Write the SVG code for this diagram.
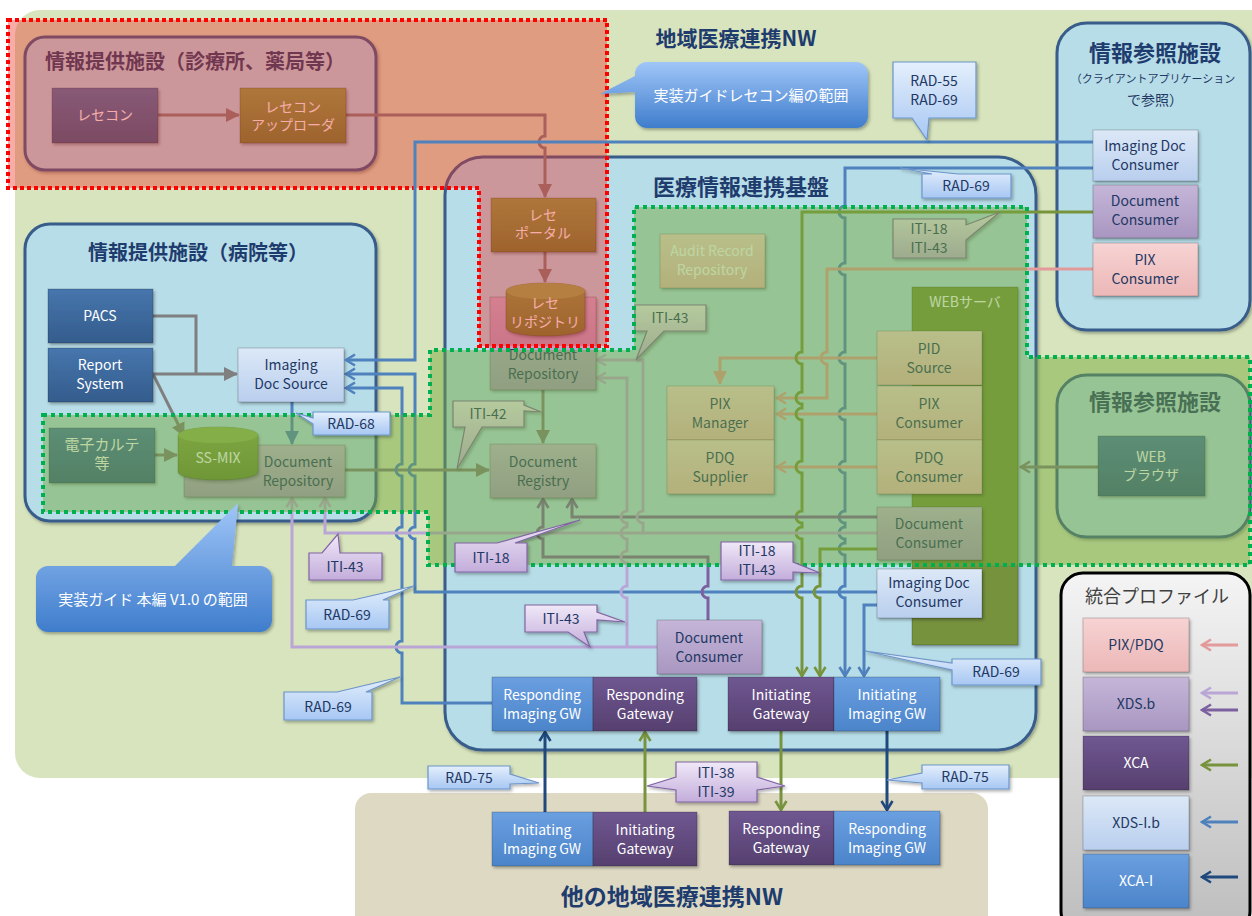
<svg xmlns="http://www.w3.org/2000/svg" width="1252" height="916" viewBox="0 0 1252 916">
<defs>
<style>
text{font-family:'Noto Sans CJK JP','Noto Sans',sans-serif}
.t{font-size:14px;text-anchor:middle}
.w{fill:#ffffff}
.n{fill:#1f3864}
.h{font-size:20px;font-weight:bold;fill:#1f3c6e}
.bx{stroke:rgba(0,0,0,0.2);stroke-width:1;filter:url(#sh)}
.dk{fill:url(#gDk)}
.lb{fill:url(#gLb)}
.lav{fill:url(#gLav)}
.pk{fill:url(#gPk)}
.ol{fill:url(#gOl)}
.mb{fill:url(#gMb)}
.pu{fill:url(#gPu)}
.ln{fill:none;stroke-width:3}
.reg{fill:#b7dde8;stroke:#385d8a;stroke-width:3;filter:url(#sh)}
.cb{fill:url(#gCb);stroke:#6d95c9;stroke-width:1.2;filter:url(#sh)}
.cl{fill:url(#gCl);stroke:#8064a2;stroke-width:1.2;filter:url(#sh)}
.cB{fill:url(#gCB);filter:url(#sh)}
.gy{stroke:#7f7f7f}.bl{stroke:#4f81bd}.pi{stroke:#e29a9a}.gr{stroke:#77933c}.nv{stroke:#1f497d}.dp{stroke:#7d60a0}.lp{stroke:#b9a6d6}
</style>
<filter id="sh" x="-10%" y="-10%" width="130%" height="140%"><feDropShadow dx="1.5" dy="2" stdDeviation="1.5" flood-color="#000" flood-opacity="0.3"/></filter>
<linearGradient id="gDk" x1="0" y1="0" x2="0" y2="1"><stop offset="0" stop-color="#4676ad"/><stop offset="1" stop-color="#345c8c"/></linearGradient>
<linearGradient id="gLb" x1="0" y1="0" x2="0" y2="1"><stop offset="0" stop-color="#dce8f7"/><stop offset="1" stop-color="#b9cfee"/></linearGradient>
<linearGradient id="gLav" x1="0" y1="0" x2="0" y2="1"><stop offset="0" stop-color="#c5b6d8"/><stop offset="1" stop-color="#a996c1"/></linearGradient>
<linearGradient id="gPk" x1="0" y1="0" x2="0" y2="1"><stop offset="0" stop-color="#f7d3d3"/><stop offset="1" stop-color="#ecb7b7"/></linearGradient>
<linearGradient id="gOl" x1="0" y1="0" x2="0" y2="1"><stop offset="0" stop-color="#87a64a"/><stop offset="1" stop-color="#6b8634"/></linearGradient>
<linearGradient id="gMb" x1="0" y1="0" x2="0" y2="1"><stop offset="0" stop-color="#6a9fe0"/><stop offset="1" stop-color="#4c84ca"/></linearGradient>
<linearGradient id="gPu" x1="0" y1="0" x2="0" y2="1"><stop offset="0" stop-color="#6f5791"/><stop offset="1" stop-color="#56406f"/></linearGradient>
<linearGradient id="gCb" x1="0" y1="0" x2="0" y2="1"><stop offset="0" stop-color="#e4effc"/><stop offset="1" stop-color="#a7c7f3"/></linearGradient>
<linearGradient id="gCl" x1="0" y1="0" x2="0" y2="1"><stop offset="0" stop-color="#f0e8f8"/><stop offset="1" stop-color="#c3addb"/></linearGradient>
<linearGradient id="gCB" x1="0" y1="0" x2="0" y2="1"><stop offset="0" stop-color="#a0c6f8"/><stop offset="1" stop-color="#3f7dcc"/></linearGradient>
<linearGradient id="gLeg" x1="0" y1="0" x2="0" y2="1"><stop offset="0" stop-color="#f4f4f4"/><stop offset="1" stop-color="#bdbdbd"/></linearGradient>
<marker id="sG" viewBox="0 0 14 14" refX="13" refY="7" markerWidth="14" markerHeight="14" markerUnits="userSpaceOnUse" orient="auto"><path d="M0,0 L14,7 L0,14 Z" fill="#7f7f7f"/></marker>
<marker id="sB" viewBox="0 0 14 14" refX="13" refY="7" markerWidth="14" markerHeight="14" markerUnits="userSpaceOnUse" orient="auto"><path d="M0,0 L14,7 L0,14 Z" fill="#4f81bd"/></marker>
<marker id="sP" viewBox="0 0 14 14" refX="13" refY="7" markerWidth="14" markerHeight="14" markerUnits="userSpaceOnUse" orient="auto"><path d="M0,0 L14,7 L0,14 Z" fill="#e29a9a"/></marker>
<marker id="oG" viewBox="0 0 14 14" refX="12" refY="7" markerWidth="14" markerHeight="14" markerUnits="userSpaceOnUse" orient="auto"><path d="M3,1.5 L12,7 L3,12.5" fill="none" stroke="#7f7f7f" stroke-width="2.6"/></marker>
<marker id="oB" viewBox="0 0 14 14" refX="12" refY="7" markerWidth="14" markerHeight="14" markerUnits="userSpaceOnUse" orient="auto"><path d="M3,1.5 L12,7 L3,12.5" fill="none" stroke="#4f81bd" stroke-width="2.6"/></marker>
<marker id="oP" viewBox="0 0 14 14" refX="12" refY="7" markerWidth="14" markerHeight="14" markerUnits="userSpaceOnUse" orient="auto"><path d="M3,1.5 L12,7 L3,12.5" fill="none" stroke="#e29a9a" stroke-width="2.6"/></marker>
<marker id="oGr" viewBox="0 0 14 14" refX="12" refY="7" markerWidth="14" markerHeight="14" markerUnits="userSpaceOnUse" orient="auto"><path d="M3,1.5 L12,7 L3,12.5" fill="none" stroke="#77933c" stroke-width="2.6"/></marker>
<marker id="oN" viewBox="0 0 14 14" refX="12" refY="7" markerWidth="14" markerHeight="14" markerUnits="userSpaceOnUse" orient="auto"><path d="M3,1.5 L12,7 L3,12.5" fill="none" stroke="#1f497d" stroke-width="2.6"/></marker>
<marker id="oD" viewBox="0 0 14 14" refX="12" refY="7" markerWidth="14" markerHeight="14" markerUnits="userSpaceOnUse" orient="auto"><path d="M3,1.5 L12,7 L3,12.5" fill="none" stroke="#7d60a0" stroke-width="2.6"/></marker>
<marker id="oL" viewBox="0 0 14 14" refX="12" refY="7" markerWidth="14" markerHeight="14" markerUnits="userSpaceOnUse" orient="auto"><path d="M3,1.5 L12,7 L3,12.5" fill="none" stroke="#b9a6d6" stroke-width="2.6"/></marker>
</defs>

<rect width="1252" height="916" fill="#ffffff"/>
<rect id="nw-main" x="15" y="10" width="1262" height="768" rx="25" fill="#d7e4bd"/>
<rect id="nw-other" x="355" y="793" width="633" height="140" rx="16" fill="#ddd9c3"/>

<g id="regions">
  <g id="r-clinic"><rect class="reg" x="25" y="37" width="351" height="133" rx="20"/><text class="h" x="45" y="69">情報提供施設（診療所、薬局等）</text></g>
  <g id="r-hospital"><rect class="reg" x="25" y="224" width="351" height="297" rx="25"/><text class="h" x="88" y="260">情報提供施設（病院等）</text></g>
  <g id="r-base"><rect class="reg" x="445" y="157" width="591" height="593" rx="38"/><text class="h" x="741" y="195" text-anchor="middle" style="font-size:22px">医療情報連携基盤</text></g>
  <g id="r-ref1"><rect class="reg" x="1057" y="23" width="193" height="307" rx="30"/>
    <text class="h" x="1155" y="61" text-anchor="middle" style="font-size:22px">情報参照施設</text>
    <text x="1153" y="83" text-anchor="middle" font-size="11" fill="#1f3864">（クライアントアプリケーション</text>
    <text x="1155" y="105" text-anchor="middle" font-size="14" fill="#1f3864">で参照）</text></g>
  <g id="r-ref2"><rect class="reg" x="1057" y="375" width="193" height="162" rx="30"/><text class="h" x="1155" y="410" text-anchor="middle" style="font-size:22px">情報参照施設</text></g>
  <text class="h" x="736" y="46" text-anchor="middle" style="font-size:21px">地域医療連携NW</text>
  <text class="h" x="672" y="905" text-anchor="middle" style="font-size:23px">他の地域医療連携NW</text>
</g>

<g id="connectors">
  <path class="ln gy" d="M158,115 H239" marker-end="url(#sG)"/>
  <path class="ln gy" d="M346,115 H545 V136 A6,6 0 0 0 545,148 V197" marker-end="url(#sG)"/>
  <path class="ln gy" d="M545,252 V282" marker-end="url(#sG)"/>
  <path class="ln gy" d="M153,316 H196 V374"/>
  <path class="ln gy" d="M153,374 H237" marker-end="url(#sG)"/>
  <path class="ln gy" d="M153,374 L184,436" marker-end="url(#sG)"/>
  <path class="ln gy" d="M155,455 H177" marker-end="url(#sG)"/>
  <path class="ln gy" d="M345,470 H489" marker-end="url(#sG)"/>
  <path class="ln gy" d="M543,390 V443" marker-end="url(#sG)"/>
  <path class="ln gy" d="M1098,467 H1021" marker-end="url(#oG)"/>
  <path class="ln bl" d="M292,402 V444" marker-end="url(#sB)"/>
  <path class="ln bl" d="M877,592 H415 V539 A6,6 0 0 1 415,527 V476 A6,6 0 0 1 415,464 V374 H346" marker-end="url(#oB)"/>
  <path class="ln bl" d="M492,703 H402 V653 A6,6 0 0 1 402,641 V539 A6,6 0 0 1 402,527 V476 A6,6 0 0 1 402,464 V388 H346" marker-end="url(#oB)"/>
  <path class="ln bl" d="M1093,168 H845 V206 A6,6 0 0 0 845,218 V263 A6,6 0 0 0 845,275 V352 A6,6 0 0 0 845,364 V408 A6,6 0 0 0 845,420 V461 A6,6 0 0 0 845,473 V511 A6,6 0 0 0 845,523 V527 A6,6 0 0 0 845,539 V543 A6,6 0 0 0 845,555 V586 A6,6 0 0 0 845,598 V676" marker-end="url(#oB)"/>
  <path class="ln bl" d="M877,605 H864 V676" marker-end="url(#oB)"/>
  <path class="ln pi" d="M1093,269 H827 V352 A6,6 0 0 0 827,364 V398 H777" marker-end="url(#oP)"/>
  <path class="ln pi" d="M877,358 H720 V384" marker-end="url(#sP)"/>
  <path class="ln pi" d="M877,414 H777" marker-end="url(#oP)"/>
  <path class="ln pi" d="M877,467 H777" marker-end="url(#oP)"/>
  <path class="ln gr" d="M1093,212 H802 V352 A6,6 0 0 0 802,364 V392 A6,6 0 0 0 802,404 V408 A6,6 0 0 0 802,420 V461 A6,6 0 0 0 802,473 V511 A6,6 0 0 0 802,523 V527 A6,6 0 0 0 802,539 V586 A6,6 0 0 0 802,598 V676" marker-end="url(#oGr)"/>
  <path class="ln gr" d="M877,549 H820 V586 A6,6 0 0 0 820,598 V676" marker-end="url(#oGr)"/>
  <path class="ln gr" d="M645,812 V732" marker-end="url(#oGr)"/>
  <path class="ln gr" d="M781,731 V810" marker-end="url(#oGr)"/>
  <path class="ln nv" d="M545,812 V732" marker-end="url(#oN)"/>
  <path class="ln nv" d="M887,731 V810" marker-end="url(#oN)"/>
  <path class="ln dp" d="M877,517 H572 V499" marker-end="url(#oD)"/>
  <path class="ln dp" d="M708,620 V598 A6,6 0 0 1 708,586 V557 H543 V539 A6,6 0 0 1 543,527 V499" marker-end="url(#oD)"/>
  <path class="ln lp" d="M877,533 H643 V523 A6,6 0 0 1 643,511 V360 H597" marker-end="url(#oL)"/>
  <path class="ln lp" d="M643,533 H325 V498" marker-end="url(#oL)"/>
  <path class="ln lp" d="M657,647 H292 V498" marker-end="url(#oL)"/>
  <path class="ln lp" d="M627,647 V598 A6,6 0 0 1 627,586 V563 A6,6 0 0 1 627,551 V539 A6,6 0 0 1 627,527 V523 A6,6 0 0 1 627,511 V378 H597" marker-end="url(#oL)"/>
</g>

<g id="nodes">
  <g id="n-resecon"><rect class="bx dk" x="52" y="88" width="106" height="55"/><text class="t w" x="105" y="120">レセコン</text></g>
  <g id="n-uploader"><rect class="bx ol" x="240" y="88" width="106" height="55"/><text class="t w" x="293" y="112">レセコン</text><text class="t w" x="293" y="130">アップローダ</text></g>
  <g id="n-pacs"><rect class="bx dk" x="48" y="289" width="105" height="54"/><text class="t w" x="100" y="321">PACS</text></g>
  <g id="n-report"><rect class="bx dk" x="48" y="348" width="105" height="54"/><text class="t w" x="100" y="370">Report</text><text class="t w" x="100" y="389">System</text></g>
  <g id="n-imgdocsrc"><rect class="bx lb" x="238" y="348" width="106" height="54"/><text class="t n" x="291" y="370">Imaging</text><text class="t n" x="291" y="389">Doc Source</text></g>
  <g id="n-emr"><rect class="bx dk" x="49" y="428" width="106" height="55"/><text class="t w" x="102" y="450" style="font-size:15px">電子カルテ</text><text class="t w" x="102" y="469" style="font-size:15px">等</text></g>
  <g id="n-hosp-repo"><rect class="bx lav" x="184" y="445" width="161" height="52"/><text class="t n" x="298" y="467">Document</text><text class="t n" x="298" y="486">Repository</text></g>
  <g id="n-ssmix"><path class="bx ol" d="M178,435 V472 A40,8 0 0 0 258,472 V435 A40,8 0 0 0 178,435 Z"/><ellipse cx="218" cy="435" rx="40" ry="8" fill="#93b455"/><text class="t w" x="218" y="463">SS-MIX</text></g>
  <g id="n-portal"><rect class="bx ol" x="491" y="198" width="105" height="54"/><text class="t w" x="543" y="220">レセ</text><text class="t w" x="543" y="238">ポータル</text></g>
  <g id="n-repo"><rect class="bx lav" x="490" y="297" width="106" height="93"/><text class="t n" x="543" y="360">Document</text><text class="t n" x="543" y="379">Repository</text></g>
  <g id="n-rece-repo"><path class="bx ol" d="M506,291 V328 A39.5,8 0 0 0 585,328 V291 A39.5,8 0 0 0 506,291 Z"/><ellipse cx="545.5" cy="291" rx="39.5" ry="8" fill="#93b455"/><text class="t w" x="545" y="308">レセ</text><text class="t w" x="545" y="327">リポジトリ</text></g>
  <g id="n-registry"><rect class="bx lav" x="490" y="444" width="106" height="54"/><text class="t n" x="543" y="467">Document</text><text class="t n" x="543" y="486">Registry</text></g>
  <g id="n-audit"><rect class="bx pk" x="660" y="234" width="105" height="54"/><text class="t w" x="712" y="256">Audit Record</text><text class="t w" x="712" y="275">Repository</text></g>
  <g id="n-pixmgr"><rect class="bx pk" x="667" y="386" width="107" height="54"/><text class="t n" x="720" y="409">PIX</text><text class="t n" x="720" y="428">Manager</text></g>
  <g id="n-pdqsup"><rect class="bx pk" x="667" y="440" width="107" height="54"/><text class="t n" x="720" y="463">PDQ</text><text class="t n" x="720" y="482">Supplier</text></g>
  <g id="n-websrv"><rect class="bx" x="912" y="287" width="106" height="358" fill="#76923c"/><text class="t w" x="965" y="307">WEBサーバ</text></g>
  <g id="n-pidsrc"><rect class="bx pk" x="877" y="331" width="105" height="54"/><text class="t n" x="929" y="354">PID</text><text class="t n" x="929" y="373">Source</text></g>
  <g id="n-pixcons"><rect class="bx pk" x="877" y="386" width="105" height="54"/><text class="t n" x="929" y="409">PIX</text><text class="t n" x="929" y="428">Consumer</text></g>
  <g id="n-pdqcons"><rect class="bx pk" x="877" y="440" width="105" height="54"/><text class="t n" x="929" y="463">PDQ</text><text class="t n" x="929" y="482">Consumer</text></g>
  <g id="n-web-doccons"><rect class="bx lav" x="877" y="507" width="105" height="53"/><text class="t n" x="929" y="529">Document</text><text class="t n" x="929" y="548">Consumer</text></g>
  <g id="n-web-imgcons"><rect class="bx lb" x="877" y="569" width="105" height="49"/><text class="t n" x="929" y="588">Imaging Doc</text><text class="t n" x="929" y="607">Consumer</text></g>
  <g id="n-doccons"><rect class="bx lav" x="657" y="620" width="105" height="54"/><text class="t n" x="709" y="643">Document</text><text class="t n" x="709" y="662">Consumer</text></g>
  <g id="n-resp-igw"><rect class="bx mb" x="492" y="677" width="101" height="54"/><text class="t w" x="542" y="700">Responding</text><text class="t w" x="542" y="719">Imaging GW</text></g>
  <g id="n-resp-gw"><rect class="bx pu" x="593" y="677" width="104" height="54"/><text class="t w" x="645" y="700">Responding</text><text class="t w" x="645" y="719">Gateway</text></g>
  <g id="n-init-gw"><rect class="bx pu" x="728" y="677" width="106" height="54"/><text class="t w" x="781" y="700">Initiating</text><text class="t w" x="781" y="719">Gateway</text></g>
  <g id="n-init-igw"><rect class="bx mb" x="834" y="677" width="106" height="54"/><text class="t w" x="887" y="700">Initiating</text><text class="t w" x="887" y="719">Imaging GW</text></g>
  <g id="n-o-init-igw"><rect class="bx mb" x="492" y="812" width="101" height="54"/><text class="t w" x="542" y="835">Initiating</text><text class="t w" x="542" y="854">Imaging GW</text></g>
  <g id="n-o-init-gw"><rect class="bx pu" x="593" y="812" width="104" height="54"/><text class="t w" x="645" y="835">Initiating</text><text class="t w" x="645" y="854">Gateway</text></g>
  <g id="n-o-resp-gw"><rect class="bx pu" x="729" y="811" width="105" height="54"/><text class="t w" x="781" y="834">Responding</text><text class="t w" x="781" y="853">Gateway</text></g>
  <g id="n-o-resp-igw"><rect class="bx mb" x="834" y="811" width="106" height="54"/><text class="t w" x="887" y="834">Responding</text><text class="t w" x="887" y="853">Imaging GW</text></g>
  <g id="n-r-imgcons"><rect class="bx lb" x="1093" y="130" width="105" height="51"/><text class="t n" x="1145" y="151">Imaging Doc</text><text class="t n" x="1145" y="170">Consumer</text></g>
  <g id="n-r-doccons"><rect class="bx lav" x="1093" y="185" width="105" height="53"/><text class="t n" x="1145" y="206">Document</text><text class="t n" x="1145" y="225">Consumer</text></g>
  <g id="n-r-pixcons"><rect class="bx pk" x="1093" y="243" width="105" height="53"/><text class="t n" x="1145" y="265">PIX</text><text class="t n" x="1145" y="284">Consumer</text></g>
  <g id="n-browser"><rect class="bx dk" x="1098" y="436" width="107" height="60"/><text class="t w" x="1151" y="462">WEB</text><text class="t w" x="1151" y="480">ブラウザ</text></g>
</g>

<g id="callouts-dim">
  <g id="c-iti42"><path class="cl" d="M453,401 H524 V405 L541,412 L524,411 V427 H482 L457,469 L465,427 H453 Z"/><text class="t n" x="488" y="419">ITI-42</text></g>
  <g id="c-iti43-up"><path class="cl" d="M635,305 H706 V331 H664 L636,360 L647,331 H635 Z"/><text class="t n" x="670" y="323">ITI-43</text></g>
  <g id="c-iti1843-up"><path class="cl" d="M893,219 H966 V225 L1000,212 L966,240 V258 H893 Z"/><text class="t n" x="929" y="234">ITI-18</text><text class="t n" x="929" y="253">ITI-43</text></g>
</g>

<g id="scopes">
  <polygon points="8,20 607,20 607,346 479,346 479,188 8,188" fill="rgb(236,48,38)" fill-opacity="0.4"/>
  <polygon points="43,415 430,415 430,350 634,350 634,207 1027,207 1027,357 1250,357 1250,565 428,565 428,512 43,512" fill="rgb(117,169,59)" fill-opacity="0.48"/>
  <polygon points="8,20 607,20 607,346 479,346 479,188 8,188" fill="none" stroke="#ff0000" stroke-width="4" stroke-dasharray="4 3"/>
  <polygon points="43,415 430,415 430,350 634,350 634,207 1027,207 1027,357 1250,357 1250,565 428,565 428,512 43,512" fill="none" stroke="#00b050" stroke-width="4" stroke-dasharray="4 4"/>
</g>

<g id="connectors-top">
  <path class="ln bl" d="M1093,142 H415 V360 H346" marker-end="url(#oB)"/>
</g>

<g id="callouts">
  <g id="c-rece"><path class="cB" d="M647,62 H856 A12,12 0 0 1 868,74 V116 A12,12 0 0 1 856,128 H647 A12,12 0 0 1 635,116 V92 L600,94 L635,76 V74 A12,12 0 0 1 647,62 Z"/><text class="t w" x="751" y="101" style="font-size:15px">実装ガイドレセコン編の範囲</text></g>
  <g id="c-v10"><path class="cB" d="M48,566 H175 L238,503 L232,566 H260 A12,12 0 0 1 272,578 V620 A12,12 0 0 1 260,632 H48 A12,12 0 0 1 36,620 V578 A12,12 0 0 1 48,566 Z"/><text class="t w" x="153" y="605" style="font-size:15px">実装ガイド 本編 V1.0 の範囲</text></g>
  <g id="c-rad5569"><path class="cb" d="M893,62 H976 V118 H929 L927,140 L912,118 H893 Z"/><text class="t n" x="934" y="86">RAD-55</text><text class="t n" x="934" y="105">RAD-69</text></g>
  <g id="c-rad69-up"><path class="cb" d="M922,174 H932 L900,168 L958,174 H1011 V198 H922 Z"/><text class="t n" x="966" y="191">RAD-69</text></g>
  <g id="c-rad68"><path class="cb" d="M313,412 H390 V435 H313 V424 L296,413 L313,418 Z"/><text class="t n" x="351" y="429">RAD-68</text></g>
  <g id="c-rad69-lu"><path class="cb" d="M306,600 H353 L414,586 L383,600 H389 V629 H306 Z"/><text class="t n" x="347" y="620">RAD-69</text></g>
  <g id="c-rad69-ll"><path class="cb" d="M284,692 H337 L400,677 L366,692 H372 V720 H284 Z"/><text class="t n" x="328" y="712">RAD-69</text></g>
  <g id="c-rad69-r"><path class="cb" d="M952,659 H1041 V685 H952 V670 L865,651 L952,663 Z"/><text class="t n" x="996" y="677">RAD-69</text></g>
  <g id="c-rad75-l"><path class="cb" d="M428,766 H510 V774 L539,783 L510,784 V789 H428 Z"/><text class="t n" x="469" y="783">RAD-75</text></g>
  <g id="c-rad75-r"><path class="cb" d="M922,765 H1009 V789 H922 V783 L887,780 L922,773 Z"/><text class="t n" x="965" y="782">RAD-75</text></g>
  <g id="c-iti43-l"><path class="cl" d="M309,553 H322 L338,534 L340,553 H382 V580 H309 Z"/><text class="t n" x="345" y="572">ITI-43</text></g>
  <g id="c-iti18"><path class="cl" d="M455,543 H497 L580,520 L515,543 H527 V572 H455 Z"/><text class="t n" x="491" y="563">ITI-18</text></g>
  <g id="c-iti43-low"><path class="cl" d="M525,605 H597 V612 L625,622 L597,620 V632 H584 L590,647 L568,632 H525 Z"/><text class="t n" x="561" y="624">ITI-43</text></g>
  <g id="c-iti1843-low"><path class="cl" d="M721,542 H793 V562 L820,573 L793,572 V580 H721 Z"/><text class="t n" x="757" y="556">ITI-18</text><text class="t n" x="757" y="575">ITI-43</text></g>
  <g id="c-iti3839"><path class="cl" d="M676,762 H757 V777 L785,786 L757,790 V802 H676 V790 L647,786 L676,777 Z"/><text class="t n" x="716" y="778">ITI-38</text><text class="t n" x="716" y="797">ITI-39</text></g>
</g>

<g id="legend">
  <rect x="1061" y="573" width="189" height="360" rx="22" fill="url(#gLeg)" stroke="#000" stroke-width="3"/>
  <text x="1157" y="603" text-anchor="middle" font-size="18" fill="#404040">統合プロファイル</text>
  <g id="lg-pix"><rect class="bx pk" x="1083" y="618" width="106" height="54"/><text class="t n" x="1136" y="650">PIX/PDQ</text><path class="ln pi" d="M1238,645 H1202" marker-end="url(#oP)"/></g>
  <g id="lg-xds"><rect class="bx lav" x="1083" y="677" width="106" height="54"/><text class="t n" x="1136" y="709">XDS.b</text><path class="ln lp" d="M1238,693 H1202" marker-end="url(#oL)"/><path class="ln dp" d="M1238,710 H1202" marker-end="url(#oD)"/></g>
  <g id="lg-xca"><rect class="bx pu" x="1083" y="736" width="106" height="54"/><text class="t w" x="1136" y="768">XCA</text><path class="ln gr" d="M1238,765 H1202" marker-end="url(#oGr)"/></g>
  <g id="lg-xdsi"><rect class="bx lb" x="1083" y="796" width="106" height="54"/><text class="t n" x="1136" y="828">XDS-I.b</text><path class="ln bl" d="M1238,822 H1202" marker-end="url(#oB)"/></g>
  <g id="lg-xcai"><rect class="bx mb" x="1083" y="854" width="106" height="54"/><text class="t w" x="1136" y="886">XCA-I</text><path class="ln nv" d="M1238,877 H1202" marker-end="url(#oN)"/></g>
</g>
</svg>
